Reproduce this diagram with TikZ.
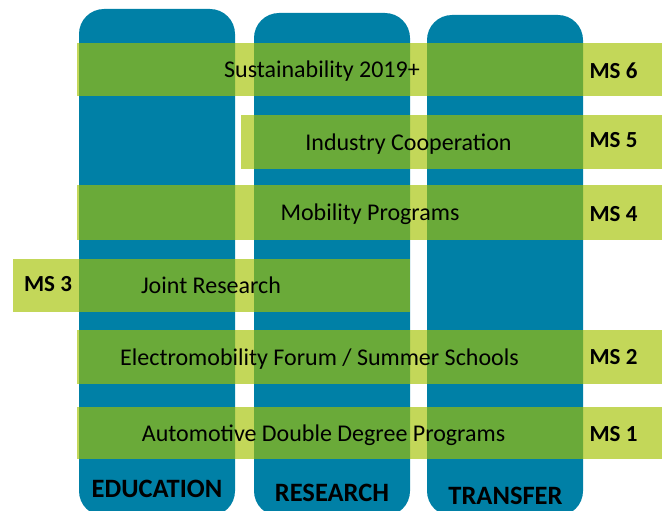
\documentclass[tikz,border=0pt]{standalone}
\usepackage{fontspec}
\setmainfont{Carlito}
\usepackage{tikz}
\usetikzlibrary{positioning}
\pgfdeclarelayer{barlayer}
\pgfdeclarelayer{textlayer}
\pgfsetlayers{main,barlayer,textlayer}
\definecolor{pillar}{RGB}{0,128,166}
\definecolor{lgreen}{RGB}{163,194,0}
\tikzstyle{column}=[rectangle,rounded corners=25pt,fill=pillar,draw=none,minimum width=156pt,inner sep=0pt]
\tikzstyle{bar}=[rectangle,fill=lgreen,fill opacity=0.65,draw=none,inner sep=0pt]
\tikzstyle{bartext}=[inner sep=0pt,anchor=base,font=\fontsize{24}{28}\selectfont]
\tikzstyle{ms}=[inner sep=0pt,anchor=base,font=\fontsize{23}{27}\selectfont\bfseries]
\tikzstyle{colname}=[inner sep=0pt,anchor=base,font=\fontsize{26.5}{30}\selectfont\bfseries]

\begin{document}
\begin{tikzpicture}[x=1pt,y=-1pt]
	\useasboundingbox (0,0) rectangle (665,511);
	\node [style=column, minimum height=507pt] (Edu) at (157,262.5) {};
	\node [style=column, minimum height=503pt] (Res) at (332,264.5) {};
	\node [style=column, minimum height=501pt] (Tra) at (505,265.5) {};
	\begin{pgfonlayer}{barlayer}
		\node [style=bar, minimum width=585pt, minimum height=53pt] (B6) at (369.5,69.5) {};
		\node [style=bar, minimum width=421pt, minimum height=54pt] (B5) at (451.5,142) {};
		\node [style=bar, minimum width=585pt, minimum height=55pt] (B4) at (369.5,212.5) {};
		\node [style=bar, minimum width=397pt, minimum height=53pt] (B3) at (211.5,285.5) {};
		\node [style=bar, minimum width=585pt, minimum height=54pt] (B2) at (369.5,357) {};
		\node [style=bar, minimum width=585pt, minimum height=52pt] (B1) at (369.5,433) {};
	\end{pgfonlayer}
	\begin{pgfonlayer}{textlayer}
		\node [style=bartext] (T6) at (322,78) {Sustainability 2019+};
		\node [style=bartext] (T5) at (408.5,150) {Industry Cooperation};
		\node [style=bartext] (T4) at (370,220) {Mobility Programs};
		\node [style=bartext] (T3) at (211,293) {Joint Research};
		\node [style=bartext] (T2) at (319.5,365) {Electromobility Forum / Summer Schools};
		\node [style=bartext] (T1) at (323.5,441) {Automotive Double Degree Programs};
		\node [style=ms] (M6) at (613.5,79) {MS 6};
		\node [style=ms] (M5) at (613.5,148) {MS 5};
		\node [style=ms] (M4) at (613.5,222) {MS 4};
		\node [style=ms] (M3) at (48,291) {MS 3};
		\node [style=ms] (M2) at (613.5,364) {MS 2};
		\node [style=ms] (M1) at (613.5,441) {MS 1};
		\node [style=colname] (LE) at (157,497) {EDUCATION};
		\node [style=colname] (LR) at (332,501) {RESEARCH};
		\node [style=colname] (LT) at (505.5,504) {TRANSFER};
	\end{pgfonlayer}
\end{tikzpicture}
\end{document}
